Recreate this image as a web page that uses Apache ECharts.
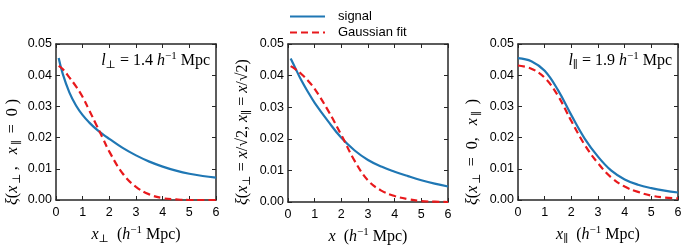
<!DOCTYPE html>
<html><head><meta charset="utf-8">
<script src="https://cdn.jsdelivr.net/npm/echarts@6/dist/echarts.min.js"></script>
<style>html,body{margin:0;padding:0;background:#fff}#c{width:700px;height:250px}</style>
</head><body><div id="c"></div>
<script>
// ---- data ----
const xTicks = [0, 1, 2, 3, 4, 5, 6];
const yTicks = [0.00, 0.01, 0.02, 0.03, 0.04, 0.05];

const xs1 = [0.1, 0.25, 0.5, 0.75, 1, 1.25, 1.5, 1.75, 2, 2.5, 3, 3.5, 4, 4.5, 5, 5.5, 6];
const signal1 = [0.0455, 0.0405, 0.0345, 0.0303, 0.0272, 0.0248, 0.0228, 0.0211, 0.0196, 0.0167, 0.0143, 0.0123, 0.0107, 0.0094, 0.0084, 0.0077, 0.0072];
const fit1 = [0.0430, 0.0420, 0.0393, 0.0364, 0.0330, 0.0287, 0.0243, 0.0199, 0.0155, 0.0085, 0.0042, 0.0018, 0.0006, 0.0002, 0.0000, 0.0000, 0.0000];

const xs2 = [0.1, 0.25, 0.5, 0.75, 1, 1.5, 2, 2.5, 3, 3.5, 4, 4.5, 5, 5.5, 6];
const signal2 = [0.0454, 0.0428, 0.0385, 0.0348, 0.0314, 0.0256, 0.0203, 0.0163, 0.0133, 0.0112, 0.0096, 0.0082, 0.0069, 0.0058, 0.0049];
const fit2 = [0.0430, 0.0422, 0.0405, 0.0384, 0.0358, 0.0290, 0.0212, 0.0130, 0.0068, 0.0036, 0.0019, 0.0009, 0.0003, 0.0001, 0.0000];

const xs3 = [0, 0.5, 1, 1.5, 2, 2.5, 3, 3.5, 4, 4.5, 5, 5.5, 6];
const signal3 = [0.0455, 0.0445, 0.0414, 0.0352, 0.0272, 0.0197, 0.0139, 0.0094, 0.0066, 0.0049, 0.0038, 0.0030, 0.0024];
const fit3 = [0.0431, 0.0421, 0.0392, 0.0334, 0.0253, 0.0177, 0.0118, 0.0072, 0.0043, 0.0026, 0.0014, 0.0008, 0.0005];

const seriesNames = ['signal', 'Gaussian fit'];

// ---- styling ----
const SERIF = "'Liberation Serif','DejaVu Serif',serif";
const SANS = "'Liberation Sans',Arial,sans-serif";
const FRAME = '#262626';
const BLUE = '#1f77b4';
const RED = '#e8191c';
const rich = {
  r:  {fontFamily: SERIF, fontSize: 16, lineHeight: 20, color: '#000', fill: '#000'},
  i:  {fontFamily: SERIF, fontSize: 16, fontStyle: 'italic', lineHeight: 20, color: '#000', fill: '#000'},
  sb: {fontFamily: SERIF, fontSize: 11, lineHeight: 10, verticalAlign: 'bottom', color: '#000', fill: '#000'},
  sp: {fontFamily: SERIF, fontSize: 11, lineHeight: 14, verticalAlign: 'top', color: '#000', fill: '#000'},
  sbw: {fontFamily: SERIF, fontSize: 11, lineHeight: 10, verticalAlign: 'bottom', padding: [0, 3, 0, 2], color: '#000', fill: '#000'}
};
const unit = '{r|  (}{i|h}{sp|−1}{r| Mpc)}';
const xNames = ['{i|x}{sb|⊥}' + unit, '{i|x}' + unit, '{i|x}{sb|∥}' + unit];
const yNames = [
  '{i|ξ}{r|(}{i|x}{sbw|⊥}{r|,   }{i|x}{sbw|∥}{r| =  0 )}',
  '{i|ξ}{r|(}{i|x}{sb|⊥}{r| = }{i|x}{r|/√2, }{i|x}{sb|∥}{r| = }{i|x}{r|/√2)}',
  '{i|ξ}{r|(}{i|x}{sbw|⊥}{r| =  0,   }{i|x}{sbw|∥}{r| )}'
];

const grids = [
  {left: 56, top: 44, width: 160, height: 160},
  {left: 288, top: 44, width: 160, height: 160},
  {left: 518, top: 44, width: 160, height: 160}
];
const yLabelX = [13, 243, 473];

const xAxes = [], yAxes = [];
grids.forEach((g, i) => {
  const common = {
    min: xTicks[0], max: xTicks[xTicks.length - 1], interval: 1, type: 'value',
    gridIndex: i, splitLine: {show: false},
    axisLine: {show: true, onZero: false, lineStyle: {color: FRAME, width: 1.5}},
    axisTick: {show: true, inside: true, length: 4, lineStyle: {color: FRAME, width: 1}}
  };
  xAxes.push(Object.assign({}, common, {
    position: 'bottom',
    axisLabel: {show: true, margin: 6, fontFamily: SANS, fontSize: 12.5, color: '#000'},
    name: xNames[i], nameLocation: 'middle', nameGap: 25,
    nameTextStyle: {rich: rich}
  }));
  xAxes.push(Object.assign({}, common, {position: 'top', axisLabel: {show: false}}));
  const ycommon = {
    min: yTicks[0], max: yTicks[yTicks.length - 1], interval: 0.01, type: 'value',
    gridIndex: i, splitLine: {show: false},
    axisLine: {show: true, onZero: false, lineStyle: {color: FRAME, width: 1.5}},
    axisTick: {show: true, inside: true, length: 4, lineStyle: {color: FRAME, width: 1}}
  };
  yAxes.push(Object.assign({}, ycommon, {
    position: 'left',
    axisLabel: {show: true, margin: 4, fontFamily: SANS, fontSize: 12.5, color: '#000',
      formatter: v => v.toFixed(2)}
  }));
  yAxes.push(Object.assign({}, ycommon, {position: 'right', axisLabel: {show: false}}));
});

const panels = [[xs1, signal1, fit1], [xs2, signal2, fit2], [xs3, signal3, fit3]];
const series = [];
panels.forEach((p, i) => {
  const [xs, s, f] = p;
  series.push({
    type: 'line', name: seriesNames[0], xAxisIndex: 2 * i, yAxisIndex: 2 * i,
    data: xs.map((x, k) => [x, s[k]]), symbol: 'none', smooth: 0.4,
    lineStyle: {color: BLUE, width: 2.2}, itemStyle: {color: BLUE}, z: 2
  });
  series.push({
    type: 'line', name: seriesNames[1], xAxisIndex: 2 * i, yAxisIndex: 2 * i,
    data: xs.map((x, k) => [x, f[k]]), symbol: 'none', smooth: 0.4,
    lineStyle: {color: RED, width: 2.2, type: [7, 4]}, itemStyle: {color: RED}, z: 3
  });
});

const graphic = [];
yNames.forEach((t, i) => {
  graphic.push({
    type: 'text', x: yLabelX[i], y: 205, rotation: Math.PI / 2,
    style: {text: t, rich: rich, x: 0, y: 0, align: 'left', verticalAlign: 'middle'}
  });
});
graphic.push({
  type: 'text', x: 210, y: 61,
  style: {text: '{i|l}{sb|⊥}{r| = 1.4 }{i|h}{sp|−1}{r| Mpc}', rich: rich, align: 'right', verticalAlign: 'middle'}
});
graphic.push({
  type: 'text', x: 672, y: 61,
  style: {text: '{i|l}{sb|∥}{r| = 1.9 }{i|h}{sp|−1}{r| Mpc}', rich: rich, align: 'right', verticalAlign: 'middle'}
});

const chart = echarts.init(document.getElementById('c'), null, {renderer: 'canvas'});
chart.setOption({
  animation: false,
  backgroundColor: '#fff',
  grid: grids,
  xAxis: xAxes,
  yAxis: yAxes,
  legend: {
    data: seriesNames, orient: 'vertical', left: 289, top: 10, padding: 0,
    itemWidth: 35, itemHeight: 14, itemGap: 3,
    itemStyle: {opacity: 0},
    textStyle: {fontFamily: SANS, fontSize: 13, color: '#000', padding: [0, 0, 0, 8]}
  },
  series: series,
  graphic: graphic
});
</script>
</body></html>
